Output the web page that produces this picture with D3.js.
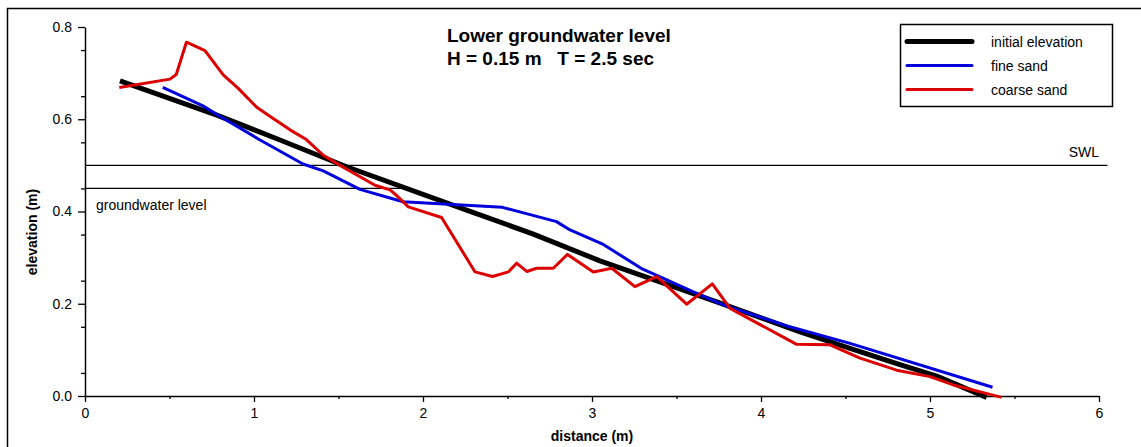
<!DOCTYPE html>
<html>
<head>
<meta charset="utf-8">
<script src="https://cdn.jsdelivr.net/npm/d3@7"></script>
<style>
  body { margin: 0; background: #fff; }
  text { font-family: "Liberation Sans", Arial, Helvetica, sans-serif; }
</style>
</head>
<body>
<div id="container"></div>
<script>
// profile data, distance (m) vs elevation (m)
const initialElevation = [
  [0.207, 0.683], [0.78, 0.609], [1.154, 0.555], [1.548, 0.497], [2.258, 0.403],
  [2.653, 0.351], [3.047, 0.293], [3.343, 0.255], [3.738, 0.204], [4.231, 0.139],
  [4.527, 0.103], [4.822, 0.068], [5.04, 0.043], [5.335, -0.003]
];
const fineSand = [
  [0.46, 0.669], [0.698, 0.629], [0.80, 0.606], [1.036, 0.555], [1.29, 0.503],
  [1.41, 0.488], [1.627, 0.448], [1.882, 0.421], [2.47, 0.409], [2.79, 0.378],
  [2.87, 0.36], [3.06, 0.33], [3.30, 0.275], [3.38, 0.262], [3.60, 0.226],
  [3.78, 0.197], [4.17, 0.15], [4.527, 0.114], [5.37, 0.019]
];
const coarseSand = [
  [0.203, 0.669], [0.503, 0.687], [0.54, 0.697], [0.60, 0.767], [0.71, 0.749],
  [0.818, 0.696], [0.907, 0.667], [1.016, 0.626], [1.105, 0.604], [1.213, 0.577],
  [1.31, 0.556], [1.41, 0.522], [1.509, 0.500], [1.716, 0.457], [1.805, 0.447],
  [1.84, 0.436], [1.913, 0.41], [2.11, 0.387], [2.308, 0.269], [2.412, 0.259],
  [2.505, 0.269], [2.554, 0.288], [2.614, 0.27], [2.673, 0.277], [2.771, 0.277],
  [2.855, 0.307], [3.008, 0.269], [3.117, 0.277], [3.254, 0.237], [3.383, 0.259],
  [3.56, 0.199], [3.712, 0.243], [3.817, 0.19], [4.211, 0.112], [4.408, 0.111],
  [4.586, 0.082], [4.803, 0.056], [5.0, 0.042], [5.138, 0.024], [5.424, -0.003]
];
const swl = 0.5;
const groundwater = 0.45;
const groundwaterEnd = 1.92;
const xTicks = [0, 1, 2, 3, 4, 5, 6];
const yTicks = [0, 0.2, 0.4, 0.6, 0.8];
const seriesNames = ["initial elevation", "fine sand", "coarse sand"];

const width = 1141;
const height = 447;
const margin = { top: 27, right: 42, bottom: 51, left: 85 };

const svg = d3.select("#container").append("svg")
  .attr("width", width)
  .attr("height", height);

// outer frame (runs off the right and bottom edges)
svg.append("rect")
  .attr("x", 7.5).attr("y", 8.5)
  .attr("width", 1300).attr("height", 600)
  .attr("fill", "none")
  .attr("stroke", "#000")
  .attr("stroke-width", 1.5);

const x = d3.scaleLinear()
  .domain([0, 6])
  .range([margin.left, width - margin.right]);

const y = d3.scaleLinear()
  .domain([0, 0.8])
  .range([height - margin.bottom, margin.top]);

// SWL and groundwater lines
svg.append("line")
  .attr("x1", x(0)).attr("x2", x(6.05))
  .attr("y1", y(swl)).attr("y2", y(swl))
  .attr("stroke", "#000").attr("stroke-width", 1.3);
svg.append("text")
  .attr("x", x(6)).attr("y", y(swl) - 8)
  .attr("text-anchor", "end")
  .style("font-size", "14px")
  .text("SWL");

svg.append("line")
  .attr("x1", x(0)).attr("x2", x(groundwaterEnd))
  .attr("y1", y(groundwater)).attr("y2", y(groundwater))
  .attr("stroke", "#000").attr("stroke-width", 1.3);
svg.append("text")
  .attr("x", x(0) + 11).attr("y", y(groundwater) + 22)
  .style("font-size", "14px")
  .text("groundwater level");

// axes
const xAxis = svg.append("g")
  .attr("transform", `translate(0,${y(0)})`)
  .call(d3.axisBottom(x).tickValues(xTicks).tickFormat(d3.format("d")).tickSize(6).tickSizeOuter(0));
xAxis.append("g")
  .call(d3.axisBottom(x).tickValues(d3.range(0.5, 6, 1)).tickFormat("").tickSize(3).tickSizeOuter(0))
  .call(g => g.select(".domain").remove());

const yAxis = svg.append("g")
  .attr("transform", `translate(${x(0)},0)`)
  .call(d3.axisLeft(y).tickValues(yTicks).tickFormat(d3.format(".1f")).tickSize(7).tickSizeOuter(0));
yAxis.append("g")
  .call(d3.axisLeft(y).tickValues(d3.range(0.05, 0.8, 0.1)).tickFormat("").tickSize(4).tickSizeOuter(0))
  .call(g => g.select(".domain").remove());

svg.selectAll(".domain").attr("stroke-width", 1.5);
svg.selectAll(".tick line").attr("stroke-width", 1.3);
svg.selectAll(".tick text")
  .style("font-size", "14px")
  .style("font-family", "'Liberation Sans', Arial, sans-serif")
  .attr("fill", "#000");
xAxis.selectAll(".tick text").attr("dy", "0.95em");
yAxis.selectAll(".tick text").attr("x", -13);

svg.append("text")
  .attr("x", x(3)).attr("y", 441)
  .attr("text-anchor", "middle")
  .style("font-size", "14px")
  .style("font-weight", "bold")
  .text("distance (m)");

svg.append("text")
  .attr("transform", "rotate(-90)")
  .attr("x", -232).attr("y", 37)
  .attr("text-anchor", "middle")
  .style("font-size", "14px")
  .style("font-weight", "bold")
  .text("elevation (m)");

// profiles
const line = d3.line()
  .x(d => x(d[0]))
  .y(d => y(d[1]));

svg.append("path")
  .datum(initialElevation)
  .attr("fill", "none")
  .attr("stroke", "#000")
  .attr("stroke-width", 5)
  .attr("stroke-linejoin", "round")
  .attr("d", line);

svg.append("path")
  .datum(fineSand)
  .attr("fill", "none")
  .attr("stroke", "#0000dd")
  .attr("stroke-width", 3)
  .attr("stroke-linejoin", "round")
  .attr("d", line);

svg.append("path")
  .datum(coarseSand)
  .attr("fill", "none")
  .attr("stroke", "#dd0000")
  .attr("stroke-width", 3)
  .attr("stroke-linejoin", "round")
  .attr("d", line);

// title
svg.append("text")
  .attr("x", 447).attr("y", 42)
  .style("font-size", "19px")
  .style("font-weight", "bold")
  .text("Lower groundwater level");
svg.append("text")
  .attr("x", 447).attr("y", 65)
  .style("font-size", "19px")
  .style("font-weight", "bold")
  .style("white-space", "pre")
  .text("H = 0.15 m   T = 2.5 sec");

// legend
const legend = svg.append("g");
legend.append("rect")
  .attr("x", 900.5).attr("y", 24.5)
  .attr("width", 212).attr("height", 82)
  .attr("fill", "#fff")
  .attr("stroke", "#000")
  .attr("stroke-width", 1.5);

const legendColors = ["#000", "#0000dd", "#dd0000"];
const legendWidths = [5, 3, 3];
seriesNames.forEach((name, i) => {
  const ly = 41.5 + i * 24;
  legend.append("line")
    .attr("x1", 907).attr("x2", 972)
    .attr("y1", ly).attr("y2", ly)
    .attr("stroke", legendColors[i])
    .attr("stroke-width", legendWidths[i])
    .attr("stroke-linecap", "round");
  legend.append("text")
    .attr("x", 991).attr("y", ly + 5)
    .style("font-size", "14px")
    .text(name);
});
</script>
</body>
</html>
